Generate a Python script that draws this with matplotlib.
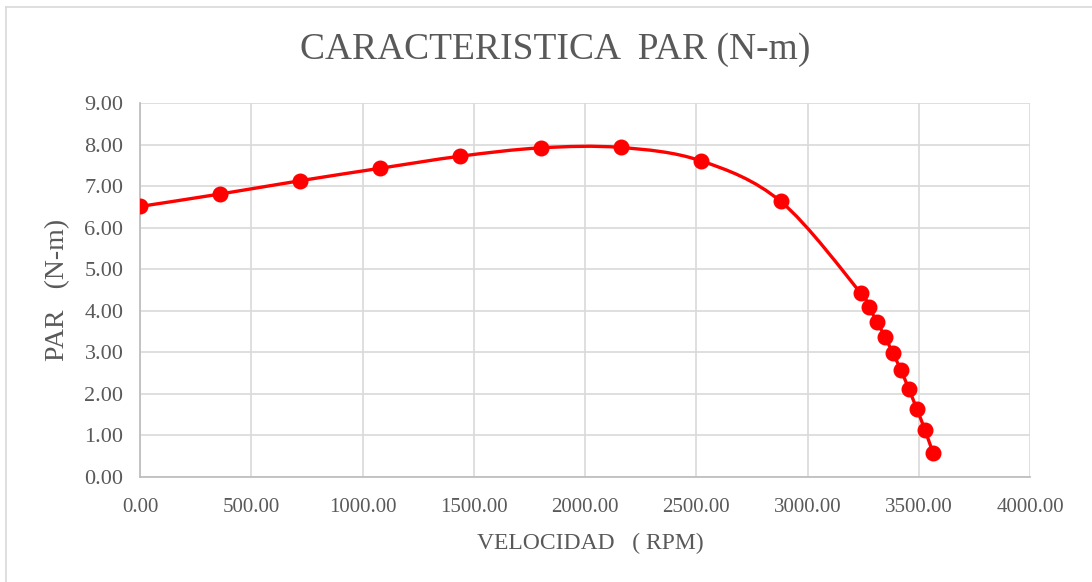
import matplotlib
matplotlib.use("Agg")
import matplotlib.pyplot as plt
from matplotlib.path import Path
from matplotlib.patches import PathPatch
from matplotlib.lines import Line2D
import numpy as np

velocidad = [0, 360, 720, 1080, 1440, 1800, 2160, 2520, 2880,
             3240, 3276, 3312, 3348, 3384, 3420, 3456, 3492, 3528, 3564]
par = [6.51, 6.81, 7.13, 7.43, 7.72, 7.92, 7.93, 7.61, 6.63,
       4.42, 4.08, 3.74, 3.37, 2.98, 2.57, 2.11, 1.63, 1.13, 0.58]
x_ticks = [0, 500, 1000, 1500, 2000, 2500, 3000, 3500, 4000]
y_ticks = [0, 1, 2, 3, 4, 5, 6, 7, 8, 9]
title = "CARACTERISTICA  PAR (N-m)"
xlabel = "VELOCIDAD   ( RPM)"
ylabel = "PAR   (N-m)"

W, H = 1092, 582
fig = plt.figure(figsize=(W / 100, H / 100), dpi=100)
ax = fig.add_axes([140 / W, 1 - 477 / H, (1030 - 140) / W, (477 - 103) / H])

txt = "#595959"
font = "Liberation Serif"

# smoothed line (Catmull-Rom style Bezier, like a spreadsheet smooth line)
pts = np.column_stack([velocidad, par]).astype(float)
n = len(pts)
verts = [tuple(pts[0])]
codes = [Path.MOVETO]
for i in range(n - 1):
    p0 = pts[i - 1] if i > 0 else pts[i]
    p1 = pts[i]
    p2 = pts[i + 1]
    p3 = pts[i + 2] if i + 2 < n else pts[i + 1]
    c1 = p1 + (p2 - p0) / 6.0
    c2 = p2 - (p3 - p1) / 6.0
    verts += [tuple(c1), tuple(c2), tuple(p2)]
    codes += [Path.CURVE4] * 3
ax.add_patch(PathPatch(Path(verts, codes), facecolor="none", edgecolor="#ff0000",
                       lw=2.4, zorder=3, capstyle="round", joinstyle="round"))
ax.plot(velocidad, par, linestyle="none", marker="o", markersize=10.5,
        color="#ff0000", zorder=4)

ax.set_xlim(0, 4000)
ax.set_ylim(0, 9)
ax.set_xticks(x_ticks)
ax.set_yticks(y_ticks)
ax.set_xticklabels([f"{v:.2f}" for v in x_ticks])
ax.set_yticklabels([f"{v:.2f}" for v in y_ticks])
ax.grid(True, color="#d9d9d9", lw=1.2, zorder=0)
ax.set_axisbelow(True)
for s in ["top", "right"]:
    ax.spines[s].set_visible(False)
for s in ["left", "bottom"]:
    ax.spines[s].set_color("#bfbfbf")
    ax.spines[s].set_linewidth(1.3)
ax.tick_params(axis="both", length=0, colors=txt)
ax.tick_params(axis="y", pad=12, labelsize=16)
ax.tick_params(axis="x", pad=15, labelsize=15)
for lab in ax.get_xticklabels() + ax.get_yticklabels():
    lab.set_fontfamily(font)

fig.text(555 / W, 1 - 50 / H, title, ha="center", va="center",
         fontsize=27, color=txt, family=font)
fig.text(590 / W, 1 - 543 / H, xlabel, ha="center", va="center",
         fontsize=17, color=txt, family=font)
fig.text(58 / W, 1 - 290 / H, ylabel, ha="center", va="center",
         fontsize=20, color=txt, family=font, rotation=90)

# outer chart border (visible top and left)
fig.add_artist(Line2D([6 / W, 1], [1 - 7 / H, 1 - 7 / H], transform=fig.transFigure,
                      color="#d9d9d9", lw=1.2))
fig.add_artist(Line2D([6 / W, 6 / W], [0, 1 - 7 / H], transform=fig.transFigure,
                      color="#d9d9d9", lw=1.2))

fig.savefig("out.png", dpi=100, facecolor="white")
